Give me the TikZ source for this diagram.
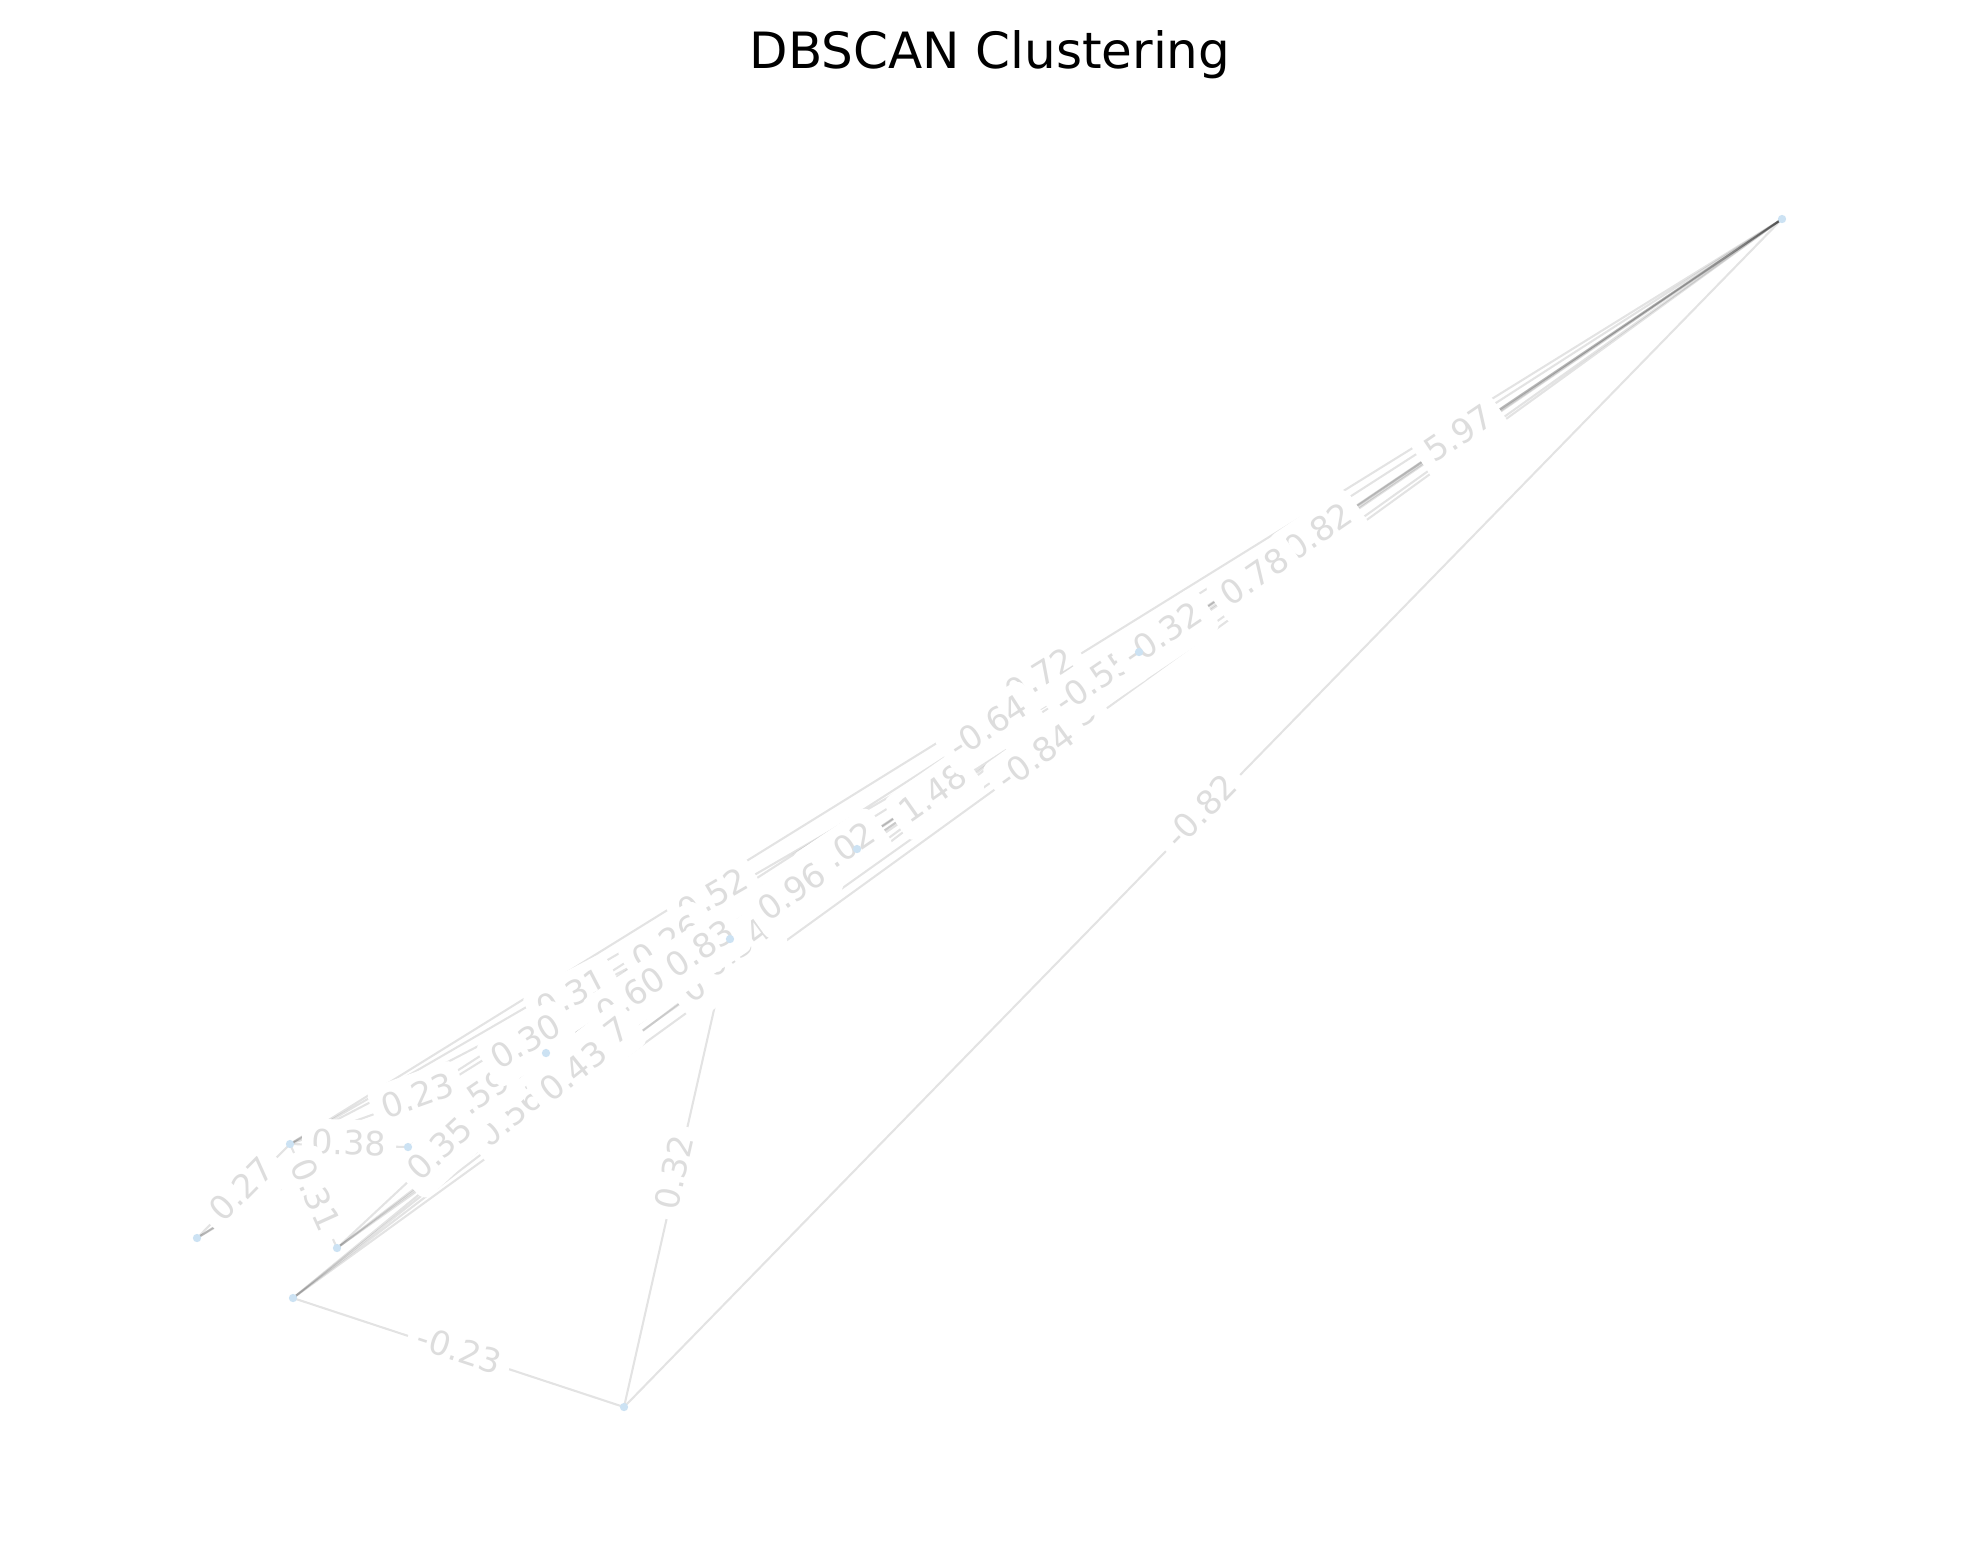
\documentclass[tikz,border=0pt]{standalone}
\usepackage{fontspec}
\setmainfont{DejaVu Sans}
\definecolor{labelgray}{RGB}{221,221,221}
\definecolor{dotblue}{RGB}{204,226,243}
\tikzset{
  edge/.style={draw=black, draw opacity=0.11, line width=0.5bp},
  elabel/.style={midway, sloped, fill=white, text=labelgray, rounded corners=2.4bp,
    inner sep=2.4bp, text height=6bp, text depth=1.6bp,
    font=\fontsize{8bp}{9.6bp}\selectfont},
  dot/.style={fill=dotblue}
}
\begin{document}
\begin{tikzpicture}[x=0.24bp, y=-0.24bp]
			\useasboundingbox (0,0) rectangle (1980,1563);
			\node[anchor=base, font=\fontsize{12bp}{14.4bp}\selectfont] (title) at (990,68) {DBSCAN Clustering};

			\coordinate (p0)  at (1782, 219);
			\coordinate (p1)  at ( 624,1407);
			\coordinate (p2)  at ( 293,1298);
			\coordinate (p3)  at ( 337,1248);
			\coordinate (p4)  at ( 197,1238);
			\coordinate (p5)  at ( 290,1144);
			\coordinate (p6)  at ( 408,1147);
			\coordinate (p7)  at ( 546,1053);
			\coordinate (p8)  at ( 730, 939);
			\coordinate (p9)  at ( 857, 849);
			\coordinate (p10) at (1139, 652);

			\draw[edge] (p0)--(p1);
			\draw[edge] (p0)--(p2);
			\draw[edge] (p0)--(p3);
			\draw[edge] (p0)--(p4);
			\draw[edge] (p0)--(p5);
			\draw[edge] (p0)--(p6);
			\draw[edge] (p0)--(p7);
			\draw[edge] (p0)--(p8);
			\draw[edge] (p0)--(p9);
			\draw[edge] (p0)--(p10);
			\draw[edge] (p1)--(p2);
			\draw[edge] (p1)--(p8);
			\draw[edge] (p4)--(p5);
			\draw[edge] (p5)--(p3);
			\draw[edge] (p5)--(p6);
			\draw[edge] (p5)--(p7);
			\draw[edge] (p7)--(p3);
			\draw[edge] (p7)--(p6);
			\draw[edge] (p8)--(p2);
			\draw[edge] (p9)--(p2);
			\draw[edge] (p9)--(p3);
			\draw[edge] (p9)--(p4);
			\draw[edge] (p9)--(p5);
			\draw[edge] (p9)--(p6);
			\draw[edge] (p9)--(p7);
			\draw[edge] (p9)--(p8);
			\draw[edge] (p10)--(p2);
			\draw[edge] (p10)--(p3);
			\draw[edge] (p10)--(p4);
			\draw[edge] (p10)--(p5);
			\draw[edge] (p10)--(p7);
			\draw[edge] (p10)--(p8);

			\path (p10)--(p5) node[elabel] {0.52};
			\path (p10)--(p4) node[elabel] {0.26};
			\path (p10)--(p2) node[elabel] {0.25};
			\path (p10)--(p3) node[elabel] {0.34};
			\path (p10)--(p7) node[elabel] {1.02};
			\path (p10)--(p8) node[elabel] {1.48};
			\path (p9)--(p5) node[elabel] {0.31};
			\path (p9)--(p6) node[elabel] {0.60};
			\path (p9)--(p3) node[elabel] {0.47};
			\path (p8)--(p2) node[elabel] {0.56};
			\path (p7)--(p6) node[elabel] {0.59};
			\path (p5)--(p6) node[elabel] {0.38};
			\path (p4)--(p5) node[elabel] {0.27};
			\path (p5)--(p3) node[elabel] {0.31};
			\path (p5)--(p7) node[elabel] {0.23};
			\path (p7)--(p3) node[elabel] {0.35};
			\path (p9)--(p4) node[elabel] {0.30};
			\path (p9)--(p2) node[elabel] {0.43};
			\path (p9)--(p7) node[elabel] {0.83};
			\path (p9)--(p8) node[elabel] {0.96};
			\path (p0)--(p3) node[elabel] {-0.63};
			\path (p0)--(p5) node[elabel] {-0.72};
			\path (p0)--(p9) node[elabel] {0.82};
			\path (p0)--(p6) node[elabel] {-0.55};
			\path (p0)--(p2) node[elabel] {-0.84};
			\path (p0)--(p4) node[elabel] {-0.64};
			\path (p0)--(p7) node[elabel] {-0.32};
			\path (p0)--(p8) node[elabel] {0.78};
			\path (p0)--(p10) node[elabel] {5.97};
			\path (p1)--(p8) node[elabel] {0.32};
			\path (p1)--(p2) node[elabel] {-0.23};
			\path (p0)--(p1) node[elabel] {-0.82};

			\fill[dot] (p0) circle (1bp);
			\fill[dot] (p1) circle (1bp);
			\fill[dot] (p2) circle (1bp);
			\fill[dot] (p3) circle (1bp);
			\fill[dot] (p4) circle (1bp);
			\fill[dot] (p5) circle (1bp);
			\fill[dot] (p6) circle (1bp);
			\fill[dot] (p7) circle (1bp);
			\fill[dot] (p8) circle (1bp);
			\fill[dot] (p9) circle (1bp);
			\fill[dot] (p10) circle (1bp);
		\end{tikzpicture}
\end{document}
